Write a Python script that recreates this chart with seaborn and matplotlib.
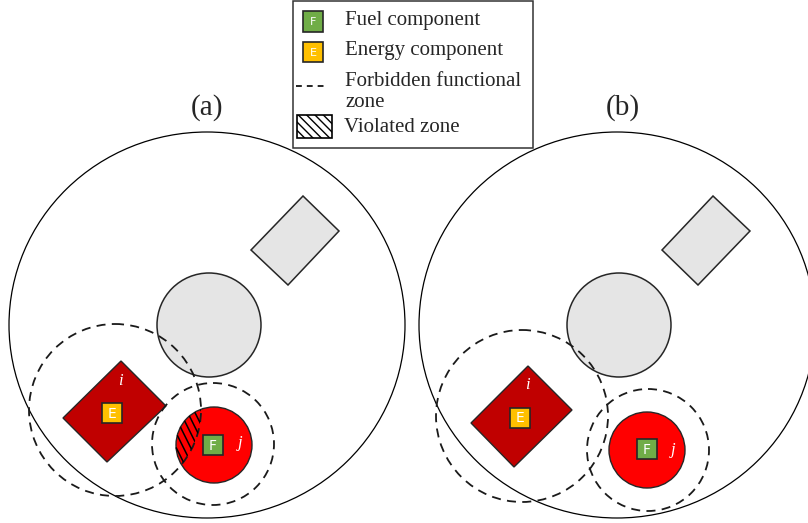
import numpy as np
import matplotlib
matplotlib.use("Agg")
import matplotlib.pyplot as plt
from matplotlib.patches import Ellipse, Circle, Polygon, Rectangle
import seaborn as sns

sns.set_style("white")
plt.rcParams['font.family'] = ['Liberation Serif', 'DejaVu Serif']
plt.rcParams['hatch.linewidth'] = 1.0

# layout of the two panels, in pixel units (x right, y down)
panel_labels = ["(a)", "(b)"]
label_pos = [(207, 108), (623, 108)]
outer_centers = [(207, 325), (617, 325)]
outer_size = (396, 386)
gray_circle_centers = [(209, 325), (619, 325)]
gray_circle_r = 52
gray_rects = [
    [(303, 196), (339, 231), (288, 285), (251, 250)],
    [(713, 196), (750, 231), (698, 285), (662, 250)],
]
diamonds = [
    [(121, 361), (166, 406), (107, 462), (63, 418)],
    [(528, 366), (572, 410), (514, 467), (471, 423)],
]
e_squares = [(102, 403), (510, 408)]
i_labels = [(120, 381), (527, 385)]
zone_i_centers = [(115, 410), (522, 416)]
zone_i_r = 86
red_centers = [(214, 445), (647, 450)]
red_r = 38
f_squares = [(203, 435), (637, 439)]
j_labels = [(240, 443), (673, 450)]
zone_j_centers = [(213, 444), (648, 450)]
zone_j_r = 61
sq = 20

legend_items = ["Fuel component", "Energy component", "Forbidden functional\nzone", "Violated zone"]

fig = plt.figure(figsize=(8.08, 5.23), dpi=100)
ax = fig.add_axes([0, 0, 1, 1])
ax.set_xlim(0, 808)
ax.set_ylim(523, 0)
ax.axis('off')

edge = '#262626'
dash = (0, (5, 3.5))

for k in range(2):
    ax.add_patch(Ellipse(outer_centers[k], *outer_size, fill=False, ec='black', lw=0.9, zorder=1))
    ax.text(*label_pos[k], panel_labels[k], fontsize=21, ha='center', va='center')
    ax.add_patch(Circle(gray_circle_centers[k], gray_circle_r, fc='#e5e5e5', ec=edge, lw=1.1, zorder=2))
    ax.add_patch(Polygon(gray_rects[k], closed=True, fc='#e5e5e5', ec=edge, lw=1.1, zorder=2))
    ax.add_patch(Polygon(diamonds[k], closed=True, fc='#c00000', ec=edge, lw=1.0, zorder=3))
    ax.add_patch(Circle(red_centers[k], red_r, fc='#ff0000', ec=edge, lw=1.0, zorder=3))

    # squares with letters
    ax.add_patch(Rectangle(e_squares[k], sq, sq, fc='#ffc000', ec=edge, lw=1.2, zorder=5))
    ax.text(e_squares[k][0] + sq / 2, e_squares[k][1] + sq / 2 + 0.5, 'E', color='white',
            fontsize=10, family='DejaVu Sans', ha='center', va='center', zorder=6)
    ax.add_patch(Rectangle(f_squares[k], sq, sq, fc='#70ad47', ec=edge, lw=1.2, zorder=5))
    ax.text(f_squares[k][0] + sq / 2, f_squares[k][1] + sq / 2 + 0.5, 'F', color='white',
            fontsize=10, family='DejaVu Sans', ha='center', va='center', zorder=6)
    ax.text(*i_labels[k], 'i', color='white', style='italic', fontsize=12, ha='center', va='center', zorder=6)
    ax.text(*j_labels[k], 'j', color='white', style='italic', fontsize=12, ha='center', va='center', zorder=6)

    ax.add_patch(Circle(zone_i_centers[k], zone_i_r, fill=False, ec='#1a1a1a', lw=1.3, ls=dash, zorder=4))
    ax.add_patch(Circle(zone_j_centers[k], zone_j_r, fill=False, ec='#1a1a1a', lw=1.3, ls=dash, zorder=4))

# violated part in (a): fuel circle j inside the forbidden zone of i, steep hatch
cx, cy = red_centers[0]
d = np.array([1.0, 2.0]) / np.sqrt(5)
n = np.array([2.0, -1.0]) / np.sqrt(5)
clip = Circle(zone_i_centers[0], zone_i_r, transform=ax.transData)
for s in np.arange(-red_r + 3, red_r, 6.5):
    half = np.sqrt(red_r ** 2 - s ** 2)
    p = np.array([cx, cy]) + s * n
    a, b = p - half * d, p + half * d
    ln, = ax.plot([a[0], b[0]], [a[1], b[1]], color='black', lw=1.1, zorder=4, solid_capstyle='butt')
    ln.set_clip_path(clip)

# legend box drawn by hand
ax.add_patch(Rectangle((293, 1), 240, 147, fill=False, ec='#333333', lw=1.1, zorder=7))
ax.add_patch(Rectangle((303, 11), 20, 21, fc='#70ad47', ec=edge, lw=1.2, zorder=8))
ax.text(313, 22, 'F', color='white', fontsize=8, family='DejaVu Sans', ha='center', va='center', zorder=9)
ax.add_patch(Rectangle((303, 42), 20, 20, fc='#ffc000', ec=edge, lw=1.2, zorder=8))
ax.text(313, 52.5, 'E', color='white', fontsize=8, family='DejaVu Sans', ha='center', va='center', zorder=9)
ax.plot([296, 327], [86, 86], color='black', lw=1.2, ls=(0, (3.5, 3)), zorder=8)
ax.add_patch(Rectangle((297, 115), 35, 23, fc='white', ec='black', lw=1.2, hatch='\\\\\\\\', zorder=8))

ax.text(345, 20, legend_items[0], fontsize=15, ha='left', va='center')
ax.text(345, 50, legend_items[1], fontsize=15, ha='left', va='center')
ax.text(345, 92, legend_items[2], fontsize=15, ha='left', va='center', linespacing=1.15)
ax.text(344, 128, legend_items[3], fontsize=15, ha='left', va='center')

fig.savefig('out.png', dpi=100)
